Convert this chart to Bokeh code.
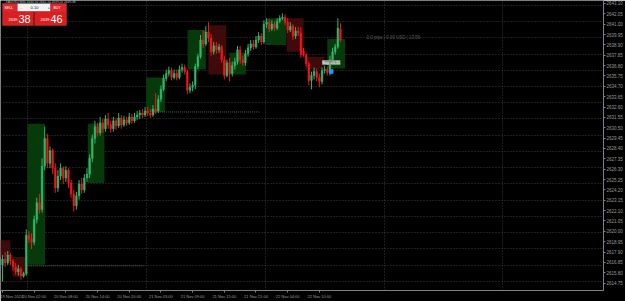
from bokeh.plotting import figure
from bokeh.models import FixedTicker, Range1d, Label, BoxAnnotation, ColumnDataSource, PrintfTickFormatter
from bokeh.embed import file_html
from bokeh.resources import INLINE

symbol = "XAUUSD,M30"

opens = [2616.60, 2617.20, 2616.80, 2617.60, 2617.00, 2616.40, 2615.90, 2616.20, 2615.50, 2615.70,
         2619.60, 2619.20, 2618.90, 2621.20, 2622.90, 2622.20, 2626.60, 2629.40, 2626.90, 2628.20,
         2626.40, 2624.40, 2625.60, 2626.40, 2625.40, 2626.20, 2624.90, 2623.80, 2622.60, 2623.60,
         2624.80, 2624.20, 2625.40, 2625.80, 2627.40, 2629.40, 2630.60, 2630.00, 2631.00, 2630.40,
         2631.40, 2630.80, 2630.40, 2631.20, 2630.70, 2631.50, 2630.80, 2631.30, 2631.00, 2631.60,
         2631.20, 2631.60, 2631.80, 2632.00, 2631.80, 2632.20, 2632.00, 2631.80, 2632.40, 2632.20,
         2633.40, 2634.40, 2635.50, 2636.00, 2636.30, 2635.60, 2636.00, 2635.60, 2636.40, 2636.60,
         2636.20, 2634.30, 2634.60, 2634.80, 2636.70, 2637.70, 2639.40, 2639.00, 2640.20, 2639.60,
         2638.20, 2638.80, 2638.40, 2638.70, 2637.40, 2635.80, 2637.10, 2636.00, 2636.80, 2637.20,
         2638.40, 2637.40, 2637.10, 2638.00, 2638.60, 2639.00, 2638.70, 2639.40, 2639.80, 2639.20,
         2641.00, 2641.20, 2640.50, 2641.00, 2640.60, 2641.30, 2641.60, 2641.70, 2641.20, 2640.40,
         2640.80, 2639.80, 2640.30, 2640.10, 2638.30, 2637.90, 2637.00, 2635.30, 2635.80, 2636.20,
         2635.60, 2635.20, 2636.30, 2636.40, 2636.10, 2637.40, 2638.20, 2638.70, 2640.50]
highs = [2617.60, 2617.90, 2618.00, 2617.80, 2617.20, 2616.80, 2616.60, 2616.40, 2615.90, 2620.20,
         2620.00, 2619.80, 2621.60, 2623.40, 2623.80, 2627.40, 2630.60, 2629.90, 2628.60, 2628.40,
         2626.90, 2626.20, 2626.90, 2626.60, 2626.60, 2626.40, 2625.20, 2624.20, 2624.00, 2625.20,
         2625.40, 2625.80, 2626.40, 2627.80, 2629.80, 2631.20, 2631.00, 2631.60, 2631.40, 2631.80,
         2632.00, 2631.20, 2631.60, 2631.50, 2632.00, 2631.80, 2631.70, 2631.60, 2632.00, 2631.90,
         2632.00, 2632.20, 2632.30, 2632.40, 2632.60, 2632.60, 2632.40, 2632.80, 2634.00, 2633.80,
         2634.80, 2635.90, 2636.40, 2636.70, 2636.60, 2636.40, 2636.40, 2636.80, 2637.00, 2636.90,
         2636.40, 2635.00, 2635.20, 2637.00, 2638.00, 2639.90, 2640.40, 2640.80, 2641.20, 2640.00,
         2639.20, 2639.20, 2639.00, 2638.90, 2637.80, 2637.40, 2637.60, 2637.20, 2637.60, 2638.80,
         2638.80, 2637.80, 2638.40, 2639.00, 2639.40, 2639.40, 2639.80, 2640.20, 2640.10, 2641.40,
         2641.60, 2641.50, 2641.40, 2641.30, 2641.60, 2641.90, 2642.10, 2642.00, 2641.60, 2641.20,
         2641.00, 2640.70, 2640.70, 2640.70, 2638.60, 2638.10, 2637.20, 2636.20, 2636.60, 2636.50,
         2636.00, 2636.60, 2636.80, 2636.70, 2637.80, 2638.60, 2639.00, 2641.60, 2641.10]
lows = [2614.90, 2616.40, 2616.60, 2616.60, 2616.00, 2615.60, 2615.50, 2615.10, 2615.30, 2615.50,
        2618.80, 2618.20, 2618.60, 2620.80, 2621.80, 2621.90, 2626.20, 2626.40, 2626.40, 2625.80,
        2623.90, 2624.00, 2625.20, 2624.80, 2625.00, 2624.40, 2623.40, 2622.00, 2622.20, 2623.20,
        2623.80, 2623.90, 2625.00, 2625.40, 2627.00, 2628.90, 2629.60, 2629.70, 2630.00, 2630.10,
        2630.40, 2630.00, 2630.10, 2630.30, 2630.50, 2630.40, 2630.60, 2630.70, 2630.80, 2630.90,
        2631.00, 2631.30, 2631.40, 2631.50, 2631.60, 2631.70, 2631.50, 2631.60, 2631.90, 2632.00,
        2633.10, 2634.20, 2635.20, 2635.70, 2635.30, 2635.40, 2635.30, 2635.40, 2636.10, 2635.90,
        2633.90, 2634.00, 2634.20, 2634.40, 2636.40, 2637.50, 2638.60, 2638.80, 2639.20, 2637.80,
        2637.90, 2638.00, 2638.10, 2637.10, 2635.40, 2635.60, 2635.20, 2635.70, 2636.40, 2636.90,
        2637.00, 2636.80, 2636.80, 2637.70, 2638.30, 2638.40, 2638.50, 2639.10, 2638.90, 2639.00,
        2640.60, 2640.20, 2640.30, 2640.30, 2640.40, 2641.10, 2641.40, 2640.90, 2640.10, 2640.20,
        2639.40, 2639.50, 2639.80, 2637.60, 2637.70, 2636.70, 2634.80, 2634.40, 2635.40, 2635.20,
        2634.60, 2634.90, 2636.00, 2635.80, 2635.80, 2637.10, 2637.90, 2638.50, 2639.20]
closes = [2617.20, 2616.80, 2617.60, 2617.00, 2616.40, 2615.90, 2616.20, 2615.50, 2615.70, 2619.60,
          2619.20, 2618.90, 2621.20, 2622.90, 2622.20, 2626.60, 2629.40, 2626.90, 2628.20, 2626.40,
          2624.40, 2625.60, 2626.40, 2625.40, 2626.20, 2624.90, 2623.80, 2622.60, 2623.60, 2624.80,
          2624.20, 2625.40, 2625.80, 2627.40, 2629.40, 2630.60, 2630.00, 2631.00, 2630.40, 2631.40,
          2630.80, 2630.40, 2631.20, 2630.70, 2631.50, 2630.80, 2631.30, 2631.00, 2631.60, 2631.20,
          2631.60, 2631.80, 2632.00, 2631.80, 2632.20, 2632.00, 2631.80, 2632.40, 2632.20, 2633.40,
          2634.40, 2635.50, 2636.00, 2636.30, 2635.60, 2636.00, 2635.60, 2636.40, 2636.60, 2636.20,
          2634.30, 2634.60, 2634.80, 2636.70, 2637.70, 2639.40, 2639.00, 2640.20, 2639.60, 2638.20,
          2638.80, 2638.40, 2638.70, 2637.40, 2635.80, 2637.10, 2636.00, 2636.80, 2637.20, 2638.40,
          2637.40, 2637.10, 2638.00, 2638.60, 2639.00, 2638.70, 2639.40, 2639.80, 2639.20, 2641.00,
          2641.20, 2640.50, 2641.00, 2640.60, 2641.30, 2641.60, 2641.70, 2641.20, 2640.40, 2640.80,
          2639.80, 2640.30, 2640.10, 2637.90, 2637.90, 2637.00, 2635.30, 2635.80, 2636.20, 2635.60,
          2635.20, 2636.30, 2636.40, 2636.10, 2637.40, 2638.20, 2638.70, 2640.60, 2639.38]

# higher-timeframe candle bodies drawn behind the bars
box_left = [-0.75, 3.75, 9.4, 32.3, 54.4, 70.1, 78.0, 86.0, 99.8, 107.6, 114.7, 123.0]
box_right = [3.0, 8.6, 16.1, 38.6, 61.5, 77.0, 84.7, 92.2, 107.5, 114.0, 121.9, 129.7]
box_open = [2619.10, 2617.40, 2616.60, 2624.90, 2632.10, 2636.40, 2640.90, 2635.90, 2638.90, 2641.60, 2637.70, 2636.50]
box_close = [2617.40, 2615.40, 2630.90, 2630.90, 2635.60, 2640.40, 2635.90, 2638.10, 2641.60, 2638.20, 2636.40, 2639.50]

# day open levels
level_start = [9.4, 54.4]
level_end = [53.6, 97.5]
level_price = [2616.50, 2632.10]

day_separators = [9.5, 54.5, 99.5, 144.5, 189.5]

time_tick_index = [0, 12, 24, 36, 48, 60, 72, 84, 96, 108, 120]
time_tick_labels = ["19 Nov 2024", "20 Nov 02:00", "20 Nov 08:00", "20 Nov 14:00", "20 Nov 20:00",
                    "21 Nov 03:00", "21 Nov 09:00", "21 Nov 15:00", "21 Nov 21:00", "22 Nov 04:00",
                    "22 Nov 10:00"]

price_ticks = [2643.10, 2642.05, 2641.00, 2639.95, 2638.90, 2637.85, 2636.80, 2635.75, 2634.70,
               2633.65, 2632.60, 2631.55, 2630.50, 2629.45, 2628.40, 2627.35, 2626.30, 2625.25,
               2624.20, 2623.15, 2622.10, 2621.05, 2620.00, 2618.95, 2617.90, 2616.85, 2615.80,
               2614.75]
grid_prices = [2642.90, 2641.26, 2639.61, 2637.97, 2636.32, 2634.68, 2633.03, 2631.39, 2629.74,
               2628.10, 2626.45, 2624.81, 2623.16, 2621.52, 2619.87, 2618.23, 2616.58, 2614.94]

bid = 2639.38
ask = 2639.46
lot = "0.10"
trade_index = 124.5
trade_price = 2636.20
trade_text = "Buy +0.55"
stats_text = "0.0 pips | 0.00 USD | 13:59"

UP = "#2fb86c"
DOWN = "#f2161c"

n = len(closes)
idx = list(range(n))
cols = [UP if c >= o else DOWN for o, c in zip(opens, closes)]
src = ColumnDataSource(dict(x=idx, o=opens, h=highs, l=lows, c=closes,
                            top=[max(a, b) for a, b in zip(opens, closes)],
                            bot=[min(a, b) for a, b in zip(opens, closes)], col=cols))

p = figure(width=625, height=301, output_backend="svg", toolbar_location=None,
           x_range=Range1d(-0.75, 227.6), y_range=Range1d(2614.0, 2643.4),
           y_axis_location="right", min_border_left=0, min_border_top=0,
           min_border_right=16, min_border_bottom=7)
p.background_fill_color = "#000000"
p.border_fill_color = "#000000"
p.outline_line_color = None

# grids
p.ygrid.ticker = FixedTicker(ticks=grid_prices)
p.xgrid.ticker = FixedTicker(ticks=day_separators)
for g in (p.xgrid, p.ygrid):
    g.grid_line_color = "#3c3c3c"
    g.grid_line_dash = "1 2"
    g.grid_line_width = 1

# axes
for ax in (p.xaxis, p.yaxis):
    ax.axis_line_color = "#808080"
    ax.major_tick_line_color = "#808080"
    ax.minor_tick_line_color = None
    ax.major_tick_in = 0
    ax.major_tick_out = 2
    ax.major_label_standoff = 1
    ax.major_label_text_color = "#9a9a9a"
    ax.major_label_text_font = "Liberation Sans"
    ax.major_label_text_font_size = "4.5px"
p.yaxis.ticker = FixedTicker(ticks=price_ticks)
p.yaxis.formatter = PrintfTickFormatter(format="%.2f")
p.xaxis.ticker = FixedTicker(ticks=time_tick_index)
p.xaxis.major_label_overrides = {k: v for k, v in zip(time_tick_index, time_tick_labels)}
p.xaxis.major_label_text_align = "left"
p.xaxis.major_label_text_font_size = "4px"

# higher timeframe boxes
bcol = ["#073a0a" if c >= o else "#3f0a0a" for o, c in zip(box_open, box_close)]
p.quad(left=box_left, right=box_right, top=[max(a, b) for a, b in zip(box_open, box_close)],
       bottom=[min(a, b) for a, b in zip(box_open, box_close)], fill_color=bcol, line_color=None)

# day open levels
p.segment(x0=level_start, y0=level_price, x1=level_end, y1=level_price,
          line_color="#5a5a5a", line_dash="1 1", line_width=1)

# candles
p.segment(x0="x", y0="h", x1="x", y1="l", color="col", line_width=1, source=src)
p.vbar(x="x", width=0.62, top="top", bottom="bot", fill_color="col", line_color="col",
       line_width=0.5, source=src)

# trade marker and labels
p.scatter([trade_index], [trade_price], marker="square", size=3.5, fill_color="#1e9bff", line_color="#1e9bff")
p.add_layout(Label(x=trade_index, y=trade_price, y_offset=9, text=trade_text, text_align="center",
                   text_baseline="middle", text_font="Liberation Sans", text_font_size="4px",
                   text_color="#ffffff", background_fill_color="#7d8f7f"))
p.add_layout(Label(x=n - 1, x_offset=26, y=bid, y_offset=3, text=stats_text, text_align="left",
                   text_baseline="middle", text_font="Liberation Sans", text_font_size="4.5px",
                   text_color="#5c5c5c"))

# bid price label on the price scale
p.add_layout(Label(x=227.6, x_offset=2, y=bid, text=f"{bid:.2f}", text_align="left",
                   text_baseline="middle", text_font="Liberation Sans", text_font_size="4.5px",
                   text_color="#000000", background_fill_color="#c8c8c8"))

# one-click trading panel (screen units, y measured from frame bottom)
FH = 292
def box(l, r, t, b, fill, line):
    p.add_layout(BoxAnnotation(left=l, right=r, top=FH - t, bottom=FH - b,
                               left_units="screen", right_units="screen",
                               top_units="screen", bottom_units="screen",
                               fill_color=fill, fill_alpha=1, line_color=line, line_width=0.6))
def txt(x, y, s, size, color="#ffffff", align="left", style="normal"):
    p.add_layout(Label(x=x, y=FH - y, x_units="screen", y_units="screen", text=s,
                       text_align=align, text_baseline="middle", text_font="Liberation Sans",
                       text_font_size=size, text_color=color, text_font_style=style))

box(2, 17, 5, 13, "#e3262b", "#ff6a6a")
box(17, 50, 5, 13, "#f2f2f2", "#9a9a9a")
box(50, 66, 5, 13, "#e3262b", "#ff6a6a")
box(2, 33, 13, 27, "#d91f1f", "#ff6a6a")
box(34, 66, 13, 27, "#d91f1f", "#ff6a6a")
txt(4, 9, "SELL", "3.5px")
txt(20, 9, "-", "4px", "#444444")
txt(34, 9, lot, "4px", "#222222", "center")
txt(47, 9, "+", "4px", "#444444")
txt(53, 9, "BUY", "3.5px")
bid_s, ask_s = f"{bid:.2f}", f"{ask:.2f}"
txt(8, 21, bid_s[:4], "4px")
txt(18, 20, bid_s[-2:], "11px")
txt(40, 21, ask_s[:4], "4px")
txt(50, 20, ask_s[-2:], "11px")
txt(5, 3.2, f"{symbol}  {opens[-1]:.2f} {highs[-1]:.2f} {lows[-1]:.2f} {closes[-1]:.2f}", "3.2px", "#c0c0c0")

open("out.html", "w").write(file_html(p, INLINE))
